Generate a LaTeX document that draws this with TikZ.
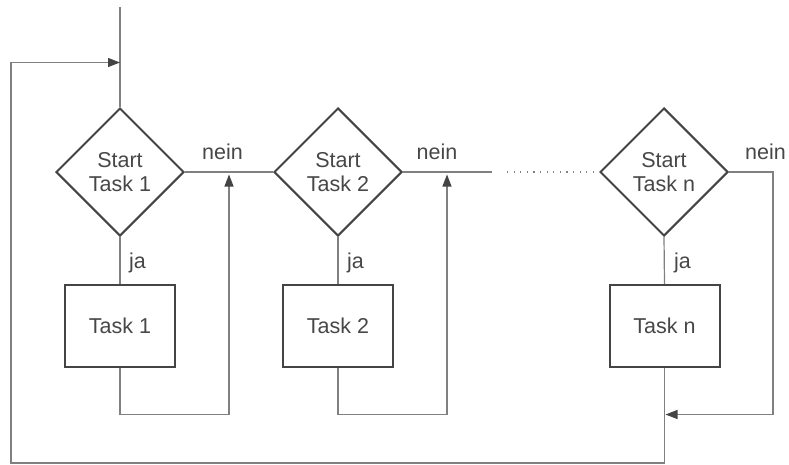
\documentclass[tikz,border=0pt]{standalone}
\usepackage{fontspec}
\setmainfont{Liberation Sans}
\usetikzlibrary{shapes.geometric,arrows.meta}
\definecolor{shapec}{HTML}{444444}
\definecolor{linec}{HTML}{808080}
\definecolor{txtc}{HTML}{474747}
\begin{document}
\begin{tikzpicture}[x=1pt,y=-1pt,
  txtfont/.style={font=\fontsize{21.5}{23.5}\selectfont, text=txtc},
  dec/.style={draw=shapec, line width=2pt, diamond, aspect=1, minimum width=128pt, minimum height=128pt, inner sep=0pt, align=center, txtfont},
  taskbox/.style={draw=shapec, line width=2pt, rectangle, minimum width=110pt, minimum height=82pt, inner sep=0pt, txtfont},
  conn/.style={draw=linec, line width=1.2pt},
  arr/.style={conn, -{Triangle[length=12pt,width=9pt,color=shapec]}},
  dotline/.style={conn, dash pattern=on 1.2pt off 5.4pt},
  lbl/.style={txtfont, inner sep=0pt, anchor=base west}]
\useasboundingbox (0,0) rectangle (789,464);
% decisions
\node[dec] (d1) at (120,172) {Start\\Task 1};
\node[dec] (d2) at (338,172) {Start\\Task 2};
\node[dec] (dn) at (664,172) {Start\\Task n};
% tasks
\node[taskbox] (t1) at (120,326) {Task 1};
\node[taskbox] (t2) at (338,326) {Task 2};
\node[taskbox] (tn) at (664.5,326) {Task n};
% labels
\node[lbl] (n1) at (202,159.5) {nein};
\node[lbl] (n2) at (416.5,159) {nein};
\node[lbl] (nn) at (745,159) {nein};
\node[lbl] (j1) at (129,268) {ja};
\node[lbl] (j2) at (347,268) {ja};
\node[lbl] (jn) at (674,268) {ja};
% coordinates
\coordinate (top) at (120,7);
\coordinate (lp) at (120,62.5);
\coordinate (lpl) at (11,62.5);
\coordinate (bot) at (664.5,463);
\coordinate (botl) at (11,463);
\coordinate (r1) at (229,414.5);
\coordinate (a1) at (229,174.5);
\coordinate (r2) at (447,414.5);
\coordinate (a2) at (447,174.5);
\coordinate (e2) at (492,172);
\coordinate (s3) at (507,172);
\coordinate (rn) at (773,414.5);
\coordinate (an) at (665.5,414.5);
% connectors
\draw[conn] (top) -- (d1.north);
\draw[conn] (d1.east) -- (d2.west);
\draw[conn] (d2.east) -- (e2);
\draw[dotline] (s3) -- (dn.west);
\draw[conn] (d1.south) -- (t1.north);
\draw[conn] (d2.south) -- (t2.north);
\draw[conn] (dn.south) -- (tn.north);
\draw[arr] (t1.south) |- (r1) -- (a1);
\draw[arr] (t2.south) |- (r2) -- (a2);
\draw[arr] (dn.east) -| (rn) -- (an);
\draw[conn] (tn.south) -- (bot);
\draw[arr] (bot) -- (botl) -- (lpl) -- (lp);
\end{tikzpicture}
\end{document}
